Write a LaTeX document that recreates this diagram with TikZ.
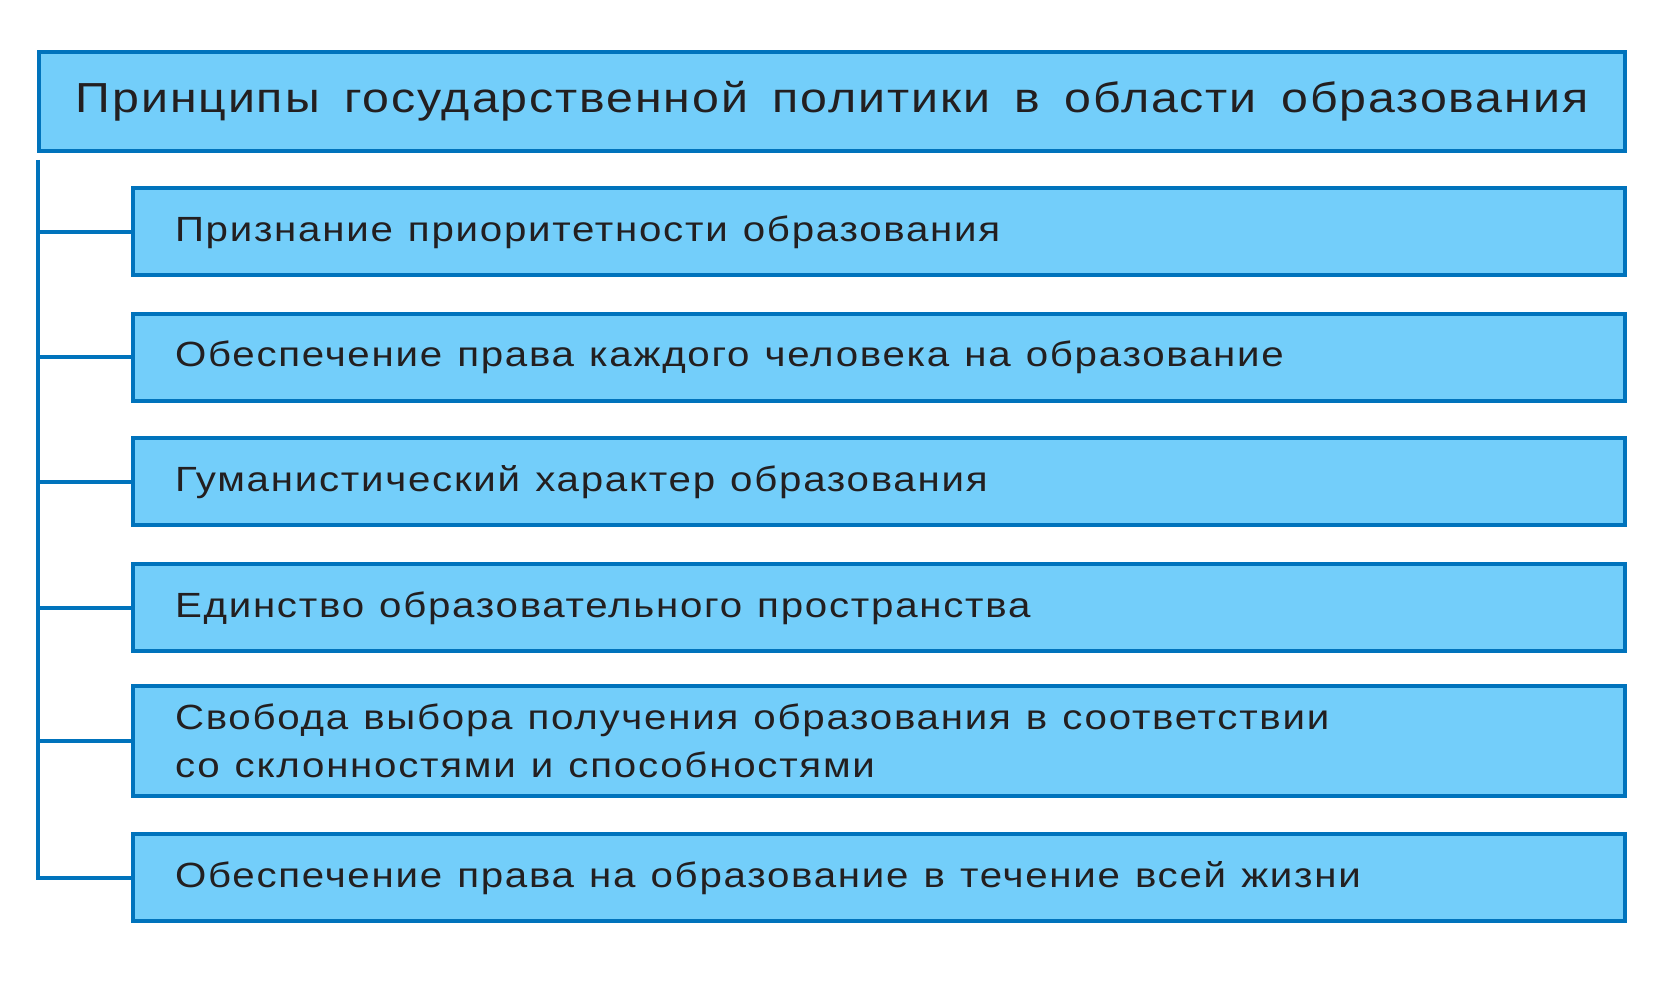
\documentclass[tikz,border=0pt]{standalone}
\usepackage{fontspec}
\setmainfont{Liberation Sans}[FakeStretch=1.15,LetterSpace=5]
\newfontfamily\headfont{Liberation Sans}[FakeStretch=1.15,LetterSpace=4.5,WordSpace=1.6]
\newcommand\itemfont{\fontsize{17.5}{24}\selectfont}
\newcommand\itemspace{\setlength{\spaceskip}{0.43em}}
\definecolor{C0}{RGB}{115,206,250}
\definecolor{C1}{RGB}{0,115,188}
\definecolor{C2}{RGB}{35,31,32}

\begin{document}
\begin{tikzpicture}[x=0.5pt,y=0.5pt,
    head/.style={draw=C1,fill=C0,line width=2pt,minimum width=793pt,minimum height=49.5pt,
        inner sep=0pt,text=C2,font=\headfont\fontsize{21}{25}\selectfont},
    item/.style={draw=C1,fill=C0,line width=2pt,minimum height=43.5pt,text width=704pt,
        inner xsep=21pt,inner ysep=0pt,align=left,text=C2,font=\itemfont,
        execute at begin node=\itemspace},
    link/.style={draw=C1,line width=2pt}]
    \useasboundingbox (0,0) rectangle (1667,986);

    % boxes
    \node[head] (main) at (832,884.5) {Принципы государственной политики в области образования};
    \node[item] (p1) at (879,754) {Признание приоритетности образования};
    \node[item] (p2) at (879,628.5) {Обеспечение права каждого человека на образование};
    \node[item] (p3) at (879,504) {Гуманистический характер образования};
    \node[item] (p4) at (879,378) {Единство образовательного пространства};
    \node[item,minimum height=55pt] (p5) at (879,245) {Свобода выбора получения образования в соответствии\\
        со склонностями и способностями};
    \node[item] (p6) at (879,108) {Обеспечение права на образование в течение всей жизни};

    % connectors
    \coordinate (trunk) at ([xshift=0.5pt,yshift=-3.5pt]main.south west);
    \draw[link] (trunk) |- (p6.west);
    \draw[link] (trunk |- p1.west) -- (p1.west);
    \draw[link] (trunk |- p2.west) -- (p2.west);
    \draw[link] (trunk |- p3.west) -- (p3.west);
    \draw[link] (trunk |- p4.west) -- (p4.west);
    \draw[link] (trunk |- p5.west) -- (p5.west);
\end{tikzpicture}
\end{document}
